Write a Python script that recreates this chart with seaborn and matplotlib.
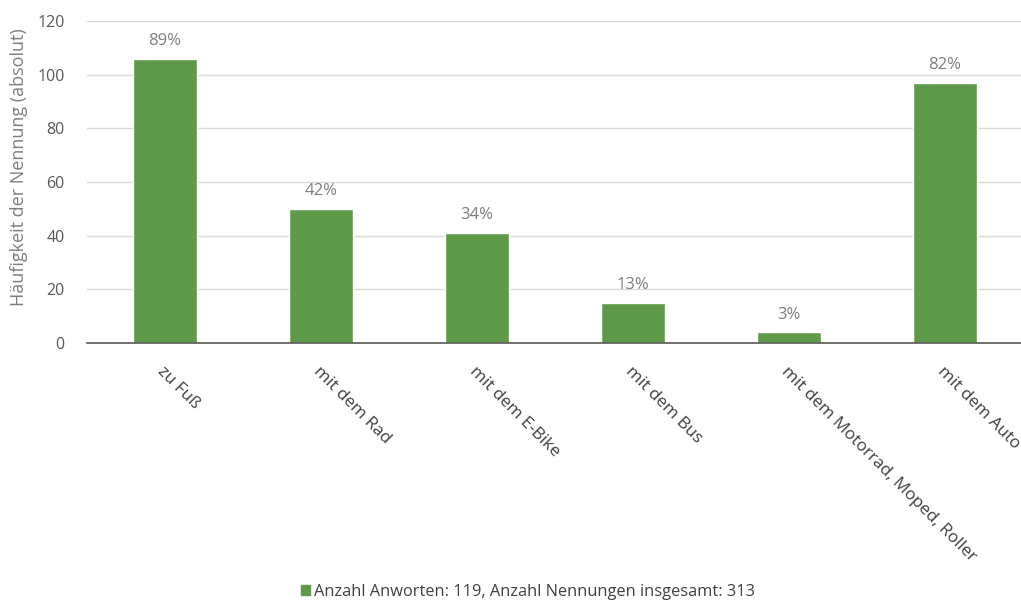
import matplotlib
matplotlib.use("Agg")
import matplotlib.pyplot as plt
import matplotlib.patches as mpatches
import seaborn as sns
import pandas as pd

categories = ["zu Fuß", "mit dem Rad", "mit dem E-Bike", "mit dem Bus",
              "mit dem Motorrad, Moped, Roller", "mit dem Auto"]
counts = [106, 50, 41, 15, 4, 97]
percent_labels = ["89%", "42%", "34%", "13%", "3%", "82%"]
legend_label = "Anzahl Anworten: 119, Anzahl Nennungen insgesamt: 313"
y_label = "Häufigkeit der Nennung (absolut)"
y_ticks = [0, 20, 40, 60, 80, 100, 120]

sns.set_theme(style="white")
plt.rcParams['font.family'] = ['Open Sans', 'DejaVu Sans']

df = pd.DataFrame({"cat": categories, "n": counts})
green = "#5f9a4a"

fig = plt.figure(figsize=(10.21, 6.01), dpi=100)
ax = fig.add_axes([87/1021, 1 - 343/601, 936/1021, 322/601])
sns.barplot(data=df, x="cat", y="n", color=green, width=0.41, ax=ax, saturation=1)

ax.set_ylim(0, 120)
ax.set_yticks(y_ticks)
ax.yaxis.grid(True, color="#d9d9d9", linewidth=1)
ax.set_axisbelow(True)
for s in ["top", "right", "left"]:
    ax.spines[s].set_visible(False)
ax.spines["bottom"].set_color("#595959")
ax.spines["bottom"].set_linewidth(1.2)
ax.tick_params(axis="y", length=0, labelsize=11.5, labelcolor="#595959", pad=16)
ax.tick_params(axis="x", length=0, labelsize=12.3, labelcolor="#404040", pad=15)
ax.set_xlabel("")
ax.set_ylabel(y_label, fontsize=13, color="#7f7f7f")
ax.yaxis.set_label_coords(-0.063, 0.547)
ax.set_xticks(range(len(categories)))
ax.set_xticklabels(categories, rotation=-45, ha="left", va="top", rotation_mode="anchor")

for i, (v, p) in enumerate(zip(counts, percent_labels)):
    ax.annotate(p, (i, v), xytext=(0, 7), textcoords="offset points",
                ha="center", va="bottom", fontsize=12, color="#7f7f7f")

handle = mpatches.Patch(color=green, label=legend_label)
fig.legend(handles=[handle], loc="center", bbox_to_anchor=(528/1021, 1 - 592/601),
           frameon=False, fontsize=11.8, handlelength=0.6, handleheight=0.6,
           handletextpad=0.25, labelcolor="#404040")

fig.savefig("out.png", dpi=100)
